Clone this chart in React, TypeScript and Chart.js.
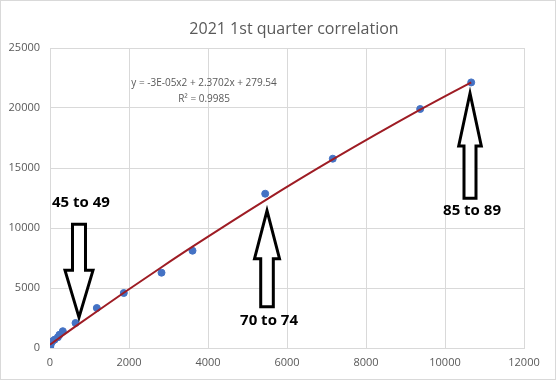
import React, { useEffect, useRef } from "react";
import { Chart, registerables } from "chart.js";

Chart.register(...registerables);

// Age groups (one point per group)
const ageGroups = [
  "0-4", "5-9", "10-14", "15-19", "20-24", "25-29", "30-34", "35-39", "40-44",
  "45-49", "50-54", "55-59", "60-64", "65-69", "70-74", "75-79", "80-84", "85-89",
];
const xValues = [2, 5, 12, 30, 60, 114, 200, 240, 324, 646, 1185, 1868, 2823, 3608, 5448, 7159, 9372, 10663];
const yValues = [30, 108, 250, 417, 560, 692, 900, 1108, 1400, 2083, 3333, 4583, 6275, 8108, 12858, 15775, 19917, 22133];

// Excel polynomial trendline (order 2) as shown on the chart
const trendCoeffs = [-3e-5, 2.3702, 279.54];
const trendLabel = "y = -3E-05x2 + 2.3702x + 279.54";
const r2Label = "R² = 0.9985";
const chartTitle = "2021 1st quarter correlation";

// Axis ticks
const xTicks = [0, 2000, 4000, 6000, 8000, 10000, 12000];
const yTicks = [0, 5000, 10000, 15000, 20000, 25000];

// Callout arrows (anchored in data space at the arrow tip)
const arrowLabels = ["45 to 49", "70 to 74", "85 to 89"];
const arrowTipX = [734, 5494, 10633];
const arrowTipY = [2558, 11442, 21225];
const arrowDir = ["down", "up", "up"];

const arrowGeom = [
  { headHalf: 14, headLen: 47, shaftHalf: 6.5, shaftLen: 46, labelGap: 22 },
  { headHalf: 12.5, headLen: 48, shaftHalf: 6.3, shaftLen: 48, labelGap: 14 },
  { headHalf: 11.3, headLen: 52.7, shaftHalf: 6, shaftLen: 52.3, labelGap: 12.5 },
];

const trendX = [0, ...xValues];
const trendFn = (x: number) => trendCoeffs[0] * x * x + trendCoeffs[1] * x + trendCoeffs[2];

const overlayPlugin = {
  id: "overlay",
  afterDraw(chart: any) {
    const ctx = chart.ctx;
    const xs = chart.scales.x;
    const ys = chart.scales.y;
    ctx.save();
    // outer frame
    ctx.strokeStyle = "#d9d9d9";
    ctx.lineWidth = 1;
    ctx.strokeRect(0.5, 0.5, 555, 379);
    // title
    ctx.fillStyle = "#595959";
    ctx.font = "16px 'Open Sans'";
    ctx.textAlign = "center";
    ctx.textBaseline = "middle";
    ctx.fillText(chartTitle, 294, 29);
    // equation
    ctx.font = "10px 'Open Sans'";
    ctx.fillText(trendLabel, xs.getPixelForValue(3900), ys.getPixelForValue(22050));
    ctx.fillText(r2Label, xs.getPixelForValue(3900), ys.getPixelForValue(20700));
    // arrows
    ctx.strokeStyle = "#000";
    ctx.lineWidth = 3;
    ctx.lineJoin = "miter";
    for (let i = 0; i < arrowLabels.length; i++) {
      const g = arrowGeom[i];
      const tx = xs.getPixelForValue(arrowTipX[i]);
      const ty = ys.getPixelForValue(arrowTipY[i]);
      const s = arrowDir[i] === "up" ? 1 : -1;
      const hb = ty + s * g.headLen;
      const sb = hb + s * g.shaftLen;
      ctx.beginPath();
      ctx.moveTo(tx, ty);
      ctx.lineTo(tx + g.headHalf, hb);
      ctx.lineTo(tx + g.shaftHalf, hb);
      ctx.lineTo(tx + g.shaftHalf, sb);
      ctx.lineTo(tx - g.shaftHalf, sb);
      ctx.lineTo(tx - g.shaftHalf, hb);
      ctx.lineTo(tx - g.headHalf, hb);
      ctx.closePath();
      ctx.fillStyle = "#fff";
      ctx.fill();
      ctx.stroke();
      ctx.fillStyle = "#000";
      ctx.font = "bold 15px 'Open Sans'";
      ctx.fillText(arrowLabels[i], tx + 2, sb + s * g.labelGap);
    }
    ctx.restore();
  },
};

export default function App() {
  const ref = useRef<HTMLCanvasElement>(null);
  useEffect(() => {
    if (!ref.current) return;
    const chart = new Chart(ref.current, {
      type: "scatter",
      data: {
        datasets: [
          {
            type: "line",
            label: "Trend",
            data: trendX.map((x) => ({ x, y: trendFn(x) })),
            borderColor: "#9e1c24",
            borderWidth: 2,
            pointRadius: 0,
            cubicInterpolationMode: "monotone",
            fill: false,
            order: 0,
          } as any,
          {
            label: "Age groups",
            data: xValues.map((x, i) => ({ x, y: yValues[i], g: ageGroups[i] })),
            backgroundColor: "#4472c4",
            borderColor: "#4472c4",
            pointRadius: 3.5,
            order: 1,
          } as any,
        ],
      },
      options: {
        animation: false,
        responsive: false,
        devicePixelRatio: 1,
        layout: { padding: { left: 0, right: 35, top: 48, bottom: 0 } },
        plugins: { legend: { display: false }, tooltip: { enabled: false }, title: { display: false } },
        scales: {
          x: {
            type: "linear",
            min: 0,
            max: 12000,
            afterBuildTicks: (s: any) => { s.ticks = xTicks.map((v) => ({ value: v })); },
            afterFit: (s: any) => { s.height = 35; },
            grid: { color: "#d9d9d9", drawTicks: false },
            border: { color: "#d9d9d9" },
            ticks: { color: "#595959", font: { family: "'Open Sans'", size: 11 }, padding: 8, maxRotation: 0, callback: (v: any) => String(v) },
          },
          y: {
            type: "linear",
            min: 0,
            max: 25000,
            afterBuildTicks: (s: any) => { s.ticks = yTicks.map((v) => ({ value: v })); },
            afterFit: (s: any) => { s.width = 50; },
            grid: { color: "#d9d9d9", drawTicks: false },
            border: { color: "#d9d9d9" },
            ticks: { color: "#595959", font: { family: "'Open Sans'", size: 11 }, padding: 10, callback: (v: any) => String(v) },
          },
        },
      },
      plugins: [overlayPlugin],
    } as any);
    return () => chart.destroy();
  }, []);
  return (
    <div style={{ position: "fixed", left: 0, top: 0, width: 559, height: 383, background: "#fff" }}>
      <canvas ref={ref} width={559} height={383} style={{ display: "block", width: 559, height: 383 }} />
    </div>
  );
}
